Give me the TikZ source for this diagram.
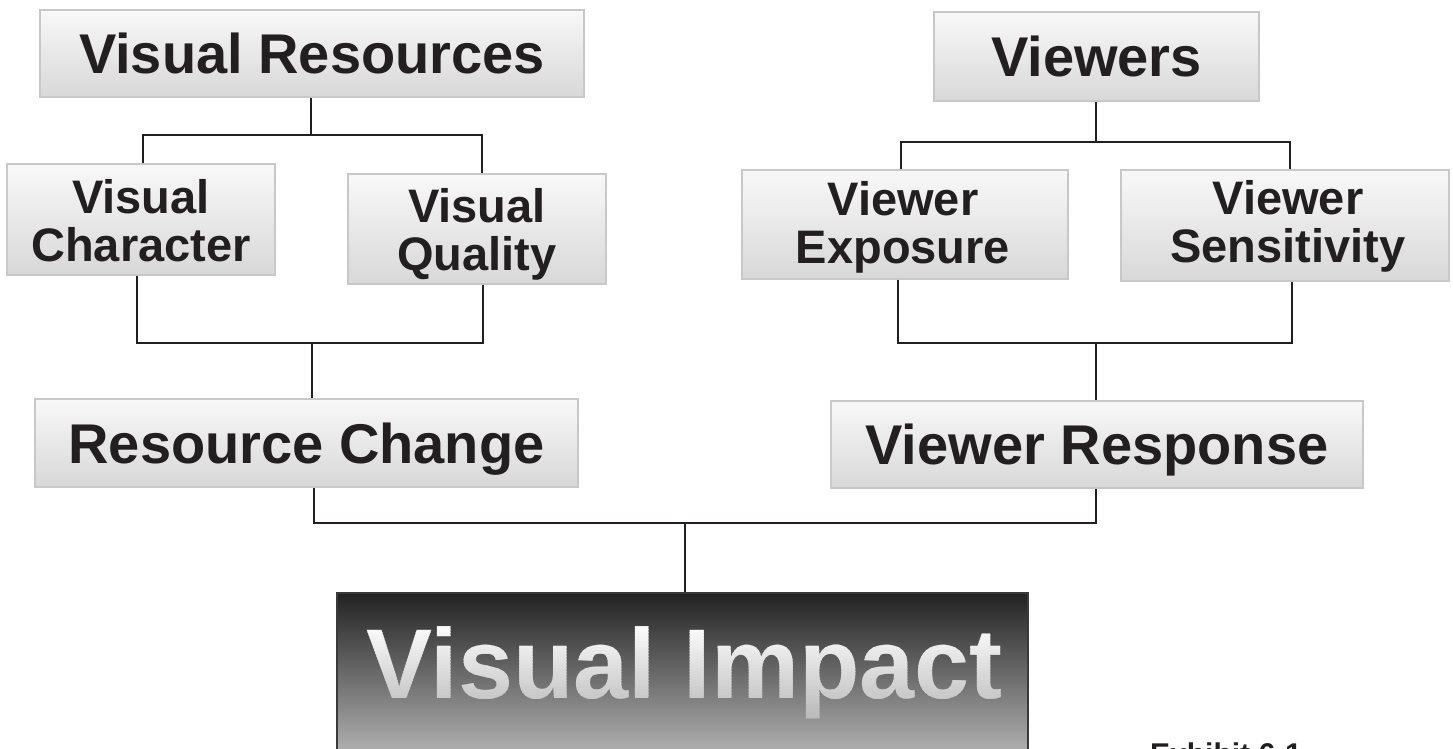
\documentclass[tikz,border=0pt]{standalone}
\usepackage{fontspec}
\setmainfont{Liberation Sans}
\definecolor{ink}{HTML}{231F20}
\definecolor{boxtop}{HTML}{F8F8F8}
\definecolor{boxbot}{HTML}{D8D8D8}
\definecolor{boxline}{HTML}{C8C8C8}
\definecolor{vitop}{HTML}{222222}
\definecolor{vibot}{HTML}{C0C0C0}
\definecolor{viline}{HTML}{3A3A3A}
\newcommand{\dgBig}{\fontsize{56}{60}\selectfont\bfseries}
\newcommand{\dgMid}{\fontsize{47}{48}\selectfont\bfseries}
\newcommand{\dgVI}{\fontsize{99}{100}\selectfont\bfseries}
\newcommand{\dgEx}{\fontsize{30}{32}\selectfont\bfseries}
\begin{document}
\begin{tikzpicture}[x=1pt,y=-1pt,
  box/.style={rectangle, draw=boxline, line width=1.6pt, top color=boxtop, bottom color=boxbot, inner sep=0pt},
  bigtext/.style={font=\dgBig, text=ink, text height=40pt, text depth=0pt},
  midtext/.style={font=\dgMid, text=ink, align=center, inner sep=0pt, anchor=north},
  conn/.style={draw=ink, line width=1.5pt},
  vitext/.style={font=\dgVI, inner sep=0pt, anchor=base},
]
\useasboundingbox (0,0) rectangle (1453,748);

% ---- boxes, left branch
\node[box, bigtext, minimum width=544pt, minimum height=87pt] (vres) at (312,53.5) {Visual Resources};
\node[box, minimum width=268pt, minimum height=111pt] (vc) at (141,219.5) {};
\node[midtext] (vct) at (141,179.5) {Visual\\Character};
\node[box, minimum width=258pt, minimum height=110pt] (vq) at (477,229) {};
\node[midtext] (vqt) at (477,188) {Visual\\Quality};
\node[box, bigtext, minimum width=543pt, minimum height=88pt] (rc) at (306.5,443) {Resource Change};

% ---- boxes, right branch
\node[box, bigtext, minimum width=325pt, minimum height=89pt] (vw) at (1096.5,56.5) {Viewers};
\node[box, minimum width=326pt, minimum height=109pt] (ve) at (905,224.5) {};
\node[midtext] (vet) at (903,181) {Viewer\\Exposure};
\node[box, minimum width=328pt, minimum height=111pt] (vs) at (1285,225.5) {};
\node[midtext] (vst) at (1288,180.5) {Viewer\\Sensitivity};
\node[box, bigtext, minimum width=532pt, minimum height=87pt] (vresp) at (1097,444.5) {Viewer Response};

% ---- Visual Impact
\node[rectangle, draw=viline, line width=1.2pt, top color=vitop, bottom color=vibot,
      minimum width=691pt, minimum height=177pt, inner sep=0pt] (vi) at (682.5,681.5) {};
\foreach \k in {0,...,35}{
  \pgfmathsetmacro\ya{620+3*\k}
  \pgfmathsetmacro\yb{\ya+3.3}
  \pgfmathsetmacro\pct{100-0.85*\k}
  \begin{scope}
    \clip (340,\ya) rectangle (1025,\yb);
    \node[vitext, text=white!\pct!black] (vit\k) at (684.5,698) {Visual Impact};
  \end{scope}
}

% ---- connectors, left
\coordinate (j1) at (311,135);
\coordinate (j1l) at (143,135);
\coordinate (j1r) at (482,135);
\draw[conn] (vres.south -| j1) -- (j1);
\draw[conn] (j1l |- vc.north) -- (j1l) -- (j1r) -- (j1r |- vq.north);
\coordinate (j2) at (312,343);
\coordinate (j2l) at (137,343);
\coordinate (j2r) at (483,343);
\draw[conn] (j2l |- vc.south) -- (j2l) -- (j2r) -- (j2r |- vq.south);
\draw[conn] (j2) -- (j2 |- rc.north);

% ---- connectors, right
\coordinate (k1) at (1096,142);
\coordinate (k1l) at (901,142);
\coordinate (k1r) at (1290,142);
\draw[conn] (vw.south -| k1) -- (k1);
\draw[conn] (k1l |- ve.north) -- (k1l) -- (k1r) -- (k1r |- vs.north);
\coordinate (k2) at (1096,343);
\coordinate (k2l) at (898,343);
\coordinate (k2r) at (1292,343);
\draw[conn] (k2l |- ve.south) -- (k2l) -- (k2r) -- (k2r |- vs.south);
\draw[conn] (k2) -- (k2 |- vresp.north);

% ---- connectors, bottom
\coordinate (m1) at (685,523);
\coordinate (m1l) at (314,523);
\coordinate (m1r) at (1096,523);
\draw[conn] (m1l |- rc.south) -- (m1l) -- (m1r) -- (m1r |- vresp.south);
\draw[conn] (m1) -- (m1 |- vi.north);

% ---- caption (cut at page edge)
\node[font=\dgEx, text=ink, anchor=north west, inner sep=0pt] (ex) at (1150,743) {Exhibit 6-1};
\end{tikzpicture}
\end{document}
